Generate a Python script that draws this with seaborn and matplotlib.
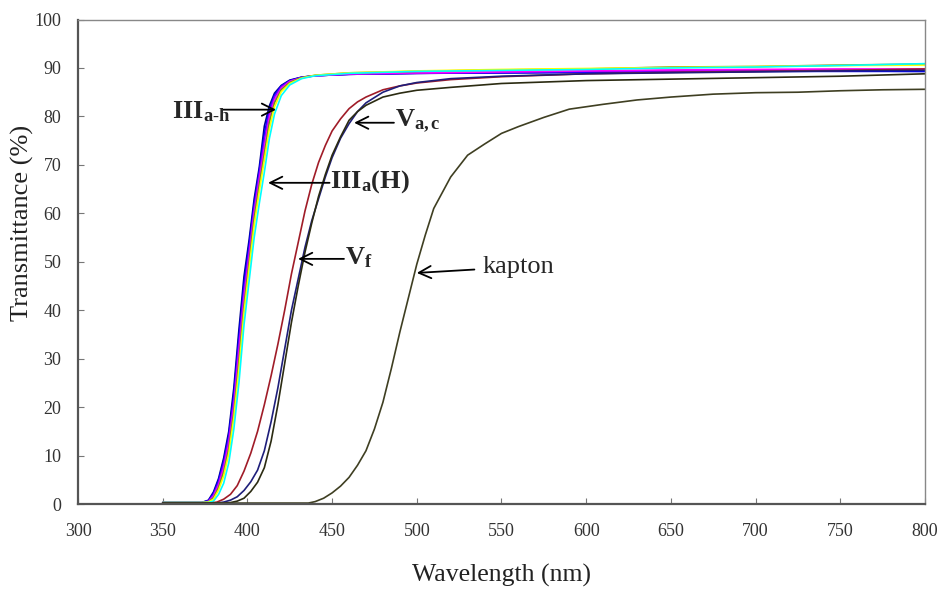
import matplotlib
matplotlib.use("Agg")
import matplotlib.pyplot as plt
import seaborn as sns
import pandas as pd

# ---------------- data ----------------
wl_iii = [350, 373, 377, 380, 383, 386, 389, 392, 395, 398, 401, 404, 407, 410,
          413, 416, 420, 425, 432, 440, 460, 500, 550, 600, 650, 700, 750, 800]
t_iii_navy = [0.3, 0.3, 0.8, 2.5, 5.3, 9.5, 15, 24, 36, 47, 54.5, 63, 69.5, 78,
              82.2, 84.8, 86.4, 87.5, 88.1, 88.4, 88.7, 88.9, 89.0, 89.1, 89.2, 89.3, 89.4, 89.3]
t_iii_blue = [0.3, 0.3, 0.7, 2.2, 4.9, 8.9, 14.2, 22.8, 34.5, 45.5, 53.5, 62, 68.8, 76.5,
              81.5, 84.4, 86.3, 87.4, 88.1, 88.4, 88.7, 88.9, 89.0, 89.1, 89.2, 89.3, 89.3, 89.3]
t_iii_purple = [0.3, 0.3, 0.6, 1.9, 4.4, 8.2, 13.4, 21.5, 33, 44, 52.3, 61, 68, 75,
                80.8, 84, 86.1, 87.3, 88.0, 88.4, 88.7, 88.9, 89.1, 89.3, 89.4, 89.5, 89.5, 89.6]
t_iii_magenta = [0.3, 0.3, 0.5, 1.6, 3.9, 7.4, 12.4, 20.2, 31.3, 42.5, 51, 60, 66.8, 73.5,
                 79.8, 83.4, 85.8, 87.2, 88.0, 88.4, 88.8, 89.0, 89.2, 89.4, 89.6, 89.7, 89.8, 89.8]
t_iii_olive = [0.3, 0.3, 0.45, 1.3, 3.4, 6.6, 11.4, 19, 29.5, 41, 49.8, 59, 65.8, 72.3,
               78.8, 82.8, 85.5, 87.0, 88.0, 88.5, 89.0, 89.3, 89.6, 89.8, 90.2, 90.3, 90.6, 90.8]
t_iii_yellow = [0.3, 0.3, 0.4, 1.0, 2.9, 5.8, 10.4, 17.8, 27.8, 39.5, 48.5, 57.5, 64.5, 71,
                77.5, 82, 85.1, 86.8, 87.9, 88.5, 89.0, 89.4, 89.7, 89.9, 90.1, 90.3, 90.5, 90.6]
t_iii_cyan = [0.3, 0.3, 0.3, 0.6, 2.0, 4.3, 8.5, 15.5, 25, 37, 46, 55, 62, 68.5,
              75.5, 80.5, 84.3, 86.5, 87.8, 88.4, 88.9, 89.3, 89.5, 89.7, 90.0, 90.2, 90.5, 90.9]

wl_v = [350, 378, 382, 386, 390, 394, 398, 402, 406, 410, 414, 418, 422, 426, 430, 434,
        438, 442, 446, 450, 455, 460, 465, 470, 480, 490, 500, 520, 550, 600, 650, 700, 750, 800]
t_v_red = [0.2, 0.2, 0.4, 1.0, 2.0, 3.8, 6.8, 10.5, 15, 20.5, 26.5, 33, 40, 47.5, 54, 60.5,
           66, 70.5, 74, 77, 79.5, 81.6, 83, 84.0, 85.5, 86.3, 86.9, 87.6, 88.2, 88.8, 89.1, 89.3, 89.5, 89.8]
t_v_navy = [0.2, 0.2, 0.2, 0.4, 0.8, 1.5, 2.8, 4.6, 7.0, 11, 17, 24, 32, 40, 46.5, 53,
            58.5, 63, 67.5, 71.5, 75.5, 78.5, 81, 82.8, 85, 86.3, 87.0, 87.8, 88.3, 88.8, 89.0, 89.2, 89.4, 89.5]
t_v_dark = [0.2, 0.2, 0.2, 0.2, 0.3, 0.6, 1.2, 2.6, 4.5, 7.5, 13, 20.5, 29, 37.5, 45, 52,
            58, 63.5, 68, 72, 75.8, 79.2, 81, 82.3, 84, 84.8, 85.4, 86.0, 86.8, 87.4, 87.7, 88.0, 88.3, 88.8]

wl_kapton = [350, 436, 440, 445, 450, 455, 460, 465, 470, 475, 480, 485, 490, 495, 500, 505,
             510, 520, 530, 540, 550, 560, 575, 590, 610, 630, 650, 675, 700, 725, 750, 775, 800]
t_kapton = [0.2, 0.2, 0.5, 1.2, 2.3, 3.7, 5.5, 8, 11, 15.5, 21, 28, 35.5, 42.5, 49.5, 55.5,
            61, 67.5, 72, 74.3, 76.5, 77.9, 79.8, 81.5, 82.5, 83.4, 84.0, 84.6, 84.9, 85.0, 85.3, 85.5, 85.6]

x_ticks = [300, 350, 400, 450, 500, 550, 600, 650, 700, 750, 800]
y_ticks = [0, 10, 20, 30, 40, 50, 60, 70, 80, 90, 100]

series = [
    (wl_iii, t_iii_navy, "#00008B"),
    (wl_iii, t_iii_blue, "#0000FF"),
    (wl_iii, t_iii_purple, "#7F00FF"),
    (wl_iii, t_iii_magenta, "#FF00FF"),
    (wl_iii, t_iii_olive, "#6B8E23"),
    (wl_iii, t_iii_yellow, "#FFFF00"),
    (wl_iii, t_iii_cyan, "#00FFFF"),
    (wl_v, t_v_red, "#A01C28"),
    (wl_v, t_v_navy, "#1E1E7A"),
    (wl_v, t_v_dark, "#2B2B12"),
    (wl_kapton, t_kapton, "#3F3F22"),
]

# ---------------- plot ----------------
sns.set_style("ticks")
plt.rcParams["font.family"] = ["Liberation Serif", "DejaVu Serif"]
plt.rcParams["mathtext.fontset"] = "custom"
plt.rcParams["mathtext.rm"] = "Liberation Serif"
plt.rcParams["mathtext.it"] = "Liberation Serif:italic"
plt.rcParams["mathtext.bf"] = "Liberation Serif:bold"

fig = plt.figure(figsize=(9.4, 5.92), dpi=100)
ax = fig.add_axes([0.083, 0.1486, 0.901, 0.8184])

for wl, t, c in series:
    df = pd.DataFrame({"wl": wl, "t": t})
    sns.lineplot(data=df, x="wl", y="t", color=c, linewidth=1.2, ax=ax,
                 estimator=None, sort=False)

ax.set_xlim(300, 800)
ax.set_ylim(0, 100)
ax.set_xticks(x_ticks)
ax.set_yticks(y_ticks)
ax.tick_params(axis="both", direction="in", length=4, width=0.8, color="#777777",
               labelsize=13, labelcolor="#333333")
ax.tick_params(axis="x", pad=14)
ax.tick_params(axis="y", pad=12)

for s in ["top", "right"]:
    ax.spines[s].set_color("#888888")
    ax.spines[s].set_linewidth(1.0)
for s in ["left", "bottom"]:
    ax.spines[s].set_color("#555555")
    ax.spines[s].set_linewidth(1.6)

ax.set_xlabel("Wavelength (nm)", fontsize=18.5, color="#222222", labelpad=17)
ax.set_ylabel("Transmittance (%)", fontsize=19, color="#222222")
ax.yaxis.set_label_coords(-0.052, 0.58)

arrow = dict(arrowstyle="->", color="black", lw=1.3, mutation_scale=22, shrinkA=0, shrinkB=0)
bold = dict(fontsize=19, fontweight="bold", va="center", ha="left")

ax.annotate("", xy=(416.9, 81.4), xytext=(385, 81.4), arrowprops=arrow)
ax.text(355.5, 81.0, r"III$_{\mathbf{a\text{-}h}}$", **bold)

ax.annotate("", xy=(412.2, 66.3), xytext=(448.5, 66.3), arrowprops=arrow)
ax.text(448.8, 66.6, r"III$_{\mathbf{a}}$(H)", **bold)

ax.annotate("", xy=(463.0, 78.7), xytext=(486.5, 78.7), arrowprops=arrow)
ax.text(487.0, 79.0, r"V$_{\mathbf{a,c}}$", **bold)

ax.annotate("", xy=(429.9, 50.6), xytext=(457.0, 50.6), arrowprops=arrow)
ax.text(457.6, 50.8, r"V$_{\mathbf{f}}$", **bold)

ax.annotate("", xy=(500.0, 47.7), xytext=(534.0, 48.4), arrowprops=arrow)
ax.text(539.0, 49.0, "kapton", fontsize=19, va="center", ha="left")

fig.savefig("out.png", dpi=100)
